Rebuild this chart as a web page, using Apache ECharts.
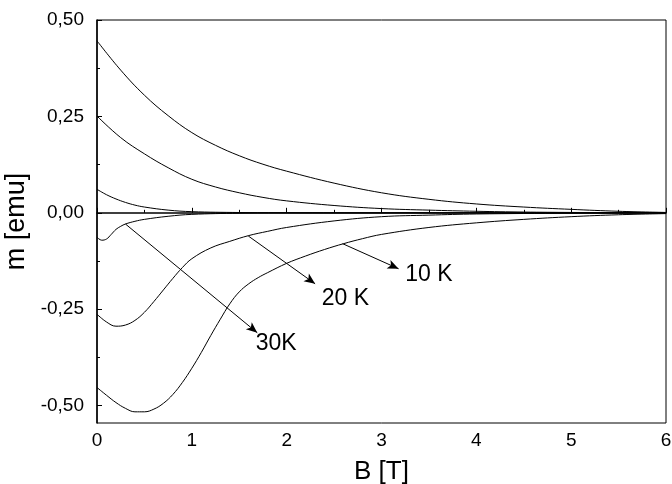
<!DOCTYPE html>
<html>
<head>
<meta charset="utf-8">
<title>m(B)</title>
<script src="https://cdn.jsdelivr.net/npm/echarts@6/dist/echarts.min.js"></script>
<style>
  html, body { margin: 0; padding: 0; background: #fff; }
  #chart { width: 672px; height: 484px; }
</style>
</head>
<body>
<div id="chart"></div>
<script>
// Magnetic moment m [emu] versus field B [T]; pairs are [B, m].
const upper10K = [[0,0.446],[0.25,0.370],[0.5,0.305],[0.75,0.252],[1,0.208],[1.25,0.175],[1.5,0.148],[1.75,0.126],[2,0.108],[2.5,0.077],[3,0.052],[3.5,0.035],[4,0.023],[4.5,0.015],[5,0.009],[5.5,0.004],[6,0.001]];
const upper20K = [[0,0.251],[0.25,0.195],[0.5,0.153],[0.75,0.117],[1,0.087],[1.25,0.067],[1.5,0.052],[1.75,0.040],[2,0.031],[2.5,0.019],[3,0.011],[3.5,0.007],[4,0.004],[4.5,0.002],[5,0.001],[5.5,0.0005],[6,0]];
const upper30K = [[0,0.061],[0.1,0.047],[0.2,0.036],[0.3,0.027],[0.4,0.020],[0.5,0.015],[0.75,0.007],[1,0.003],[1.5,0.0008],[2,0.0002],[3,0],[4,0],[5,0],[6,0]];
const lower30K = [[0,-0.063],[0.05,-0.071],[0.1,-0.068],[0.15,-0.056],[0.2,-0.043],[0.25,-0.035],[0.3,-0.029],[0.4,-0.022],[0.5,-0.017],[0.75,-0.009],[1,-0.004],[1.5,-0.001],[2,0],[3,0],[4,0],[5,0],[6,0]];
const lower20K = [[0,-0.263],[0.1,-0.283],[0.2,-0.294],[0.3,-0.291],[0.4,-0.279],[0.5,-0.258],[0.6,-0.230],[0.7,-0.200],[0.8,-0.170],[0.9,-0.142],[1,-0.119],[1.2,-0.091],[1.4,-0.074],[1.6,-0.059],[1.8,-0.048],[2,-0.038],[2.5,-0.021],[3,-0.010],[3.5,-0.006],[4,-0.003],[5,-0.001],[6,0]];
const lower10K = [[0,-0.453],[0.1,-0.473],[0.2,-0.492],[0.3,-0.507],[0.4,-0.516],[0.5,-0.516],[0.6,-0.509],[0.7,-0.494],[0.8,-0.471],[0.9,-0.440],[1,-0.403],[1.1,-0.362],[1.2,-0.318],[1.3,-0.276],[1.4,-0.236],[1.5,-0.205],[1.6,-0.184],[1.7,-0.168],[1.8,-0.155],[2,-0.131],[2.2,-0.112],[2.4,-0.095],[2.6,-0.080],[2.8,-0.067],[3,-0.056],[3.5,-0.038],[4,-0.026],[4.5,-0.017],[5,-0.010],[5.5,-0.005],[6,-0.002]];

// Temperature annotations: arrow tail, arrow head, text centre.
const tempLabels = ['30K', '20 K', '10 K'];
const arrowFrom = [[0.30,-0.029],[1.595,-0.060],[2.59,-0.080]];
const arrowTo = [[1.69,-0.311],[2.30,-0.184],[3.18,-0.145]];
const labelAt = [[1.89,-0.340],[2.62,-0.222],[3.50,-0.161]];

// Axis ticks
const yMajorTicks = [-0.5,-0.25,0,0.25,0.5];
const yMinorTicks = [-0.375,-0.125,0.125,0.375];
const xRange = [0, 6];
const yRange = [-0.545, 0.5];

const FONT = 'Liberation Sans, Arial, sans-serif';
const fmtComma = v => v.toFixed(2).replace('.', ',');

const curve = data => ({
  type: 'line',
  data: data,
  showSymbol: false,
  smooth: 0.4,
  lineStyle: { color: '#000', width: 1 },
  silent: true,
  z: 3
});

const chart = echarts.init(document.getElementById('chart'), null, { renderer: 'canvas' });
chart.setOption({
  animation: false,
  backgroundColor: '#fff',
  grid: {
    left: 97, right: 6, top: 20, bottom: 61,
    outerBoundsMode: 'none',
    containLabel: false,
    show: true, borderColor: '#000', borderWidth: 1, backgroundColor: 'transparent'
  },
  xAxis: {
    type: 'value',
    min: xRange[0], max: xRange[1], interval: 1,
    name: 'B [T]', nameLocation: 'middle', nameGap: 36,
    nameTextStyle: { fontFamily: FONT, fontSize: 26, color: '#000' },
    axisLine: { lineStyle: { color: '#000', width: 1.5 } },
    axisTick: { inside: true, length: 5, lineStyle: { color: '#000', width: 1 } },
    minorTick: { show: true, splitNumber: 2, length: 3, lineStyle: { color: '#000', width: 1 } },
    axisLabel: { fontFamily: FONT, fontSize: 19, color: '#000', margin: 8 },
    splitLine: { show: false }
  },
  yAxis: [{
    type: 'value',
    min: yRange[0], max: yRange[1],
    name: 'm [emu]', nameLocation: 'middle', nameGap: 62,
    nameTextStyle: { fontFamily: FONT, fontSize: 27, color: '#000' },
    axisLine: { lineStyle: { color: '#000', width: 1.5 } },
    axisTick: { inside: true, length: 5, customValues: yMajorTicks, lineStyle: { color: '#000', width: 1 } },
    axisLabel: { fontFamily: FONT, fontSize: 19, color: '#000', margin: 13, customValues: yMajorTicks, formatter: fmtComma },
    splitLine: { show: false }
  }, {
    type: 'value',
    position: 'left',
    min: yRange[0], max: yRange[1],
    axisLine: { show: false },
    axisTick: { inside: true, length: 3, customValues: yMinorTicks, lineStyle: { color: '#000', width: 1 } },
    axisLabel: { show: false },
    splitLine: { show: false }
  }],
  series: [
    curve(upper10K), curve(upper20K), curve(upper30K),
    curve(lower30K), curve(lower20K), curve(lower10K),
    {
      type: 'line',
      data: [],
      silent: true,
      markLine: {
        silent: true,
        animation: false,
        symbol: ['none', 'arrow'],
        symbolSize: [7, 11],
        lineStyle: { color: '#000', width: 1, type: 'solid' },
        label: { show: false },
        data: arrowFrom.map((p, i) => [{ coord: p }, { coord: arrowTo[i] }])
      },
      markPoint: {
        silent: true,
        animation: false,
        symbol: 'circle',
        symbolSize: 0,
        label: {
          show: true, position: 'inside',
          fontFamily: FONT, fontSize: 23, color: '#000',
          formatter: p => p.name
        },
        data: labelAt.map((p, i) => ({ name: tempLabels[i], coord: p }))
      }
    }
  ]
});
</script>
</body>
</html>
